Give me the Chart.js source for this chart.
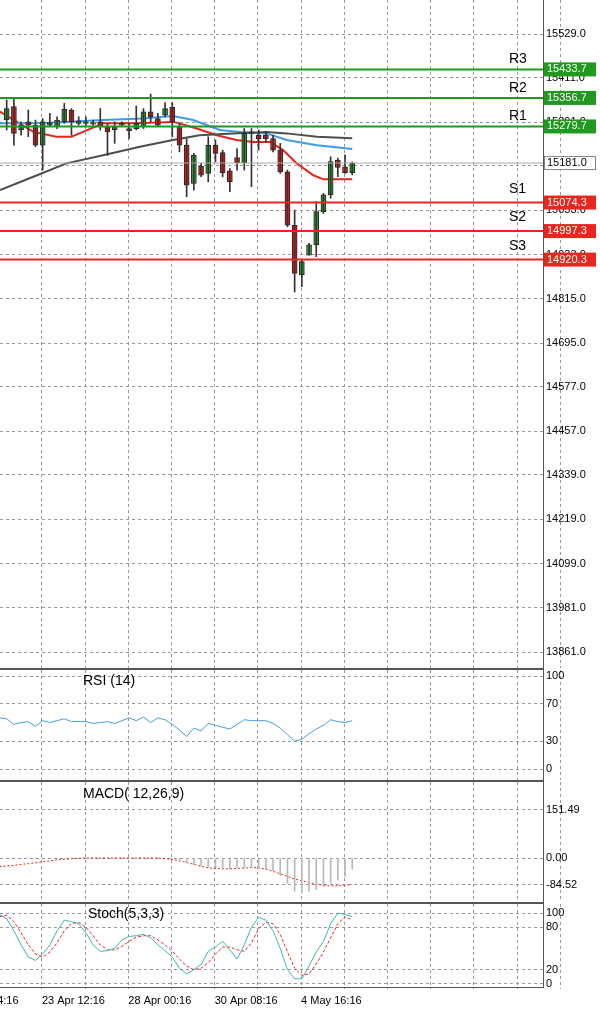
<!DOCTYPE html>
<html><head><meta charset="utf-8">
<script src="https://cdn.jsdelivr.net/npm/chart.js@4/dist/chart.umd.min.js"></script>
<style>
body{margin:0;background:#fff;width:600px;height:1014px;overflow:hidden;position:relative;font-family:"Liberation Sans",Arial,sans-serif}
.p{position:absolute;left:0;width:600px}
.sep{position:absolute;left:0;width:543px;height:2px;background:#555}
</style></head><body>
<div class="p" style="top:0;height:668px"><canvas id="c1"></canvas></div>
<div class="sep" style="top:668px"></div>
<div class="p" style="top:670px;height:110px"><canvas id="c2"></canvas></div>
<div class="sep" style="top:780px"></div>
<div class="p" style="top:782px;height:120px"><canvas id="c3"></canvas></div>
<div class="sep" style="top:902px"></div>
<div class="p" style="top:904px;height:110px"><canvas id="c4"></canvas></div>
<div style="position:absolute;left:543px;top:0;width:1px;height:988px;background:#555"></div>
<div style="position:absolute;left:0;top:987px;width:544px;height:1px;background:#555"></div>
<script>
const opens =[15297,15333,15270,15292,15283,15229,15283,15279,15292,15324,15288,15288,15286,15292,15279,15270,15283,15274,15274,15279,15319,15301,15310,15331,15279,15229,15126,15173,15153,15229,15209,15160,15196,15182,15261,15256,15256,15247,15216,15157,15013,14879,14932,14960,15050,15095,15189,15171,15155];
const highs =[15351,15355,15292,15324,15297,15301,15315,15306,15342,15328,15306,15306,15297,15328,15288,15292,15292,15288,15335,15328,15367,15315,15344,15344,15288,15247,15207,15180,15252,15243,15216,15166,15220,15274,15274,15270,15265,15256,15234,15162,15054,14919,14964,15077,15099,15198,15194,15203,15184];
const lows  =[15270,15229,15256,15252,15225,15162,15279,15274,15288,15256,15283,15279,15283,15270,15202,15234,15279,15247,15270,15274,15292,15279,15306,15252,15211,15090,15108,15144,15130,15184,15144,15104,15162,15162,15117,15216,15238,15211,15153,15009,14833,14847,14932,14928,15045,15086,15144,15153,15149];
const closes=[15328,15261,15283,15283,15229,15292,15290,15297,15326,15292,15295,15292,15290,15279,15265,15279,15288,15268,15288,15319,15306,15283,15328,15292,15229,15121,15202,15148,15229,15207,15155,15130,15182,15261,15265,15247,15247,15216,15157,15013,14883,14915,14960,15050,15095,15185,15169,15155,15180];
const maFastX=[0.07,2,4.7,7.9,10,11.6,14.4,18.5,24.1,25,27.4,30.2,32.9,35.3,37.6,39.4,41.3,43.6,45,49];
const maFast =[15320,15297,15265,15252,15252,15265,15288,15288,15292,15288,15274,15256,15243,15238,15238,15216,15180,15148,15137,15137];
const maMidX=[0.07,4.7,9.3,14.4,19.9,24.1,26.9,30.6,33.4,37.1,39.9,44.1,49];
const maMid =[15288,15288,15292,15297,15301,15308,15297,15270,15265,15261,15243,15229,15219];
const maSlowX=[0.07,4.7,9.3,14.4,19.5,24.1,27.8,32.4,37.1,39.9,44.1,49];
const maSlow =[15108,15144,15180,15202,15225,15243,15256,15261,15265,15261,15252,15248];
const resist=[15433.7,15356.7,15279.7];
const support=[15074.3,14997.3,14920.3];
const lastPrice=15181.0;
const priceTicks=[15529,15411,15291,15173,15053,14933,14815,14695,14577,14457,14339,14219,14099,13981,13861];
const rsi=[55,54,48,50,51,46,52,50,52,54,51,51,51,49,50,51,49,52,55,52,56,50,55,53,48,42,35,44,41,49,47,45,43,48,53,52,52,52,49,44,37,30,32,38,43,47,53,51,50,52];
const macdHist=[0,0,0,0,0,0,0,0,0,0,0,0,0,0,0,0,0,0,0,0,0,0,0,0,-5,-15,-20,-25,-30,-30,-35,-35,-30,-30,-30,-30,-35,-40,-55,-80,-105,-110,-105,-100,-90,-80,-70,-60,-35];
const macdSignal=[-27,-25,-23,-20,-18,-15,-12,-9,-6,-4,-2,-1,0,0,0,0,0,0,0,0,0,0,0,-2,-5,-9,-14,-20,-26,-31,-33,-34,-34,-33,-32,-30,-31,-35,-42,-50,-58,-66,-72,-78,-82,-86,-88,-88,-86,-84];
const stochMain=[98,92,75,55,38,33,42,55,75,90,88,85,72,55,46,47,50,62,67,68,70,65,55,47,38,22,14,20,27,46,52,60,48,35,55,80,94,90,75,50,20,7,7,25,45,60,85,100,98,95];
const stochSig=[95,97,88,72,55,42,38,45,58,75,85,87,80,68,55,48,48,53,60,66,68,68,62,55,46,35,25,20,22,30,42,52,52,48,46,58,78,87,85,70,45,22,12,14,28,45,65,85,95,90];
const timeLabels=["22 Apr 04:16","","23 Apr 12:16","","28 Apr 00:16","","30 Apr 08:16","","4 May 16:16","","","","","","",""];

const XMIN=0.07,XMAX=75.5;
const FONT={family:"Liberation Sans",size:11};
function xScale(showLabels){
  return {type:'linear',min:XMIN,max:XMAX,offset:false,
    afterBuildTicks:s=>{s.ticks=[];for(let k=-2;k<=12;k++)s.ticks.push({value:5.9+6*k});},
    afterFit:s=>{s.paddingLeft=0;s.paddingRight=0;if(!showLabels)s.height=0;},
    grid:{color:'#999',drawTicks:false,offset:false},border:{display:false,dash:[3,3]},
    ticks:{display:showLabels,color:'#000',font:FONT,maxRotation:0,autoSkip:false,padding:6,align:'start',
      callback:(v,i)=>timeLabels[i]||''}};
}
function yScale(min,max,ticks,fmt){
  return {position:'right',min,max,
    afterFit:s=>{s.width=57;s.paddingTop=0;s.paddingBottom=0;},
    afterBuildTicks:s=>{s.ticks=ticks.map(v=>({value:v}));},
    grid:{color:'#999',drawTicks:false},border:{display:false,dash:[3,3]},
    ticks:{color:'#000',font:FONT,padding:3,callback:fmt||(v=>v)}};
}
Chart.defaults.animation=false;
Chart.defaults.font.family="Liberation Sans";
const idx=opens.map((_,i)=>i+1);
const noLeg={legend:{display:false},tooltip:{enabled:false}};
const LP={padding:0};

const levelPlugin={id:'lv',afterDraw(ch){
  const c=ch.ctx,y=ch.scales.y;
  c.save();c.font='11px "Liberation Sans"';c.textBaseline='middle';
  const box=(v,bg,fg,txt)=>{const py=y.getPixelForValue(v);c.fillStyle=bg;c.fillRect(544,py-7,52,14);c.fillStyle=fg;c.textAlign='left';c.fillText(txt,547,py);};
  resist.forEach(v=>box(v,'#1f9a1f','#fff',v.toFixed(1)));
  support.forEach(v=>box(v,'#e8261e','#fff',v.toFixed(1)));
  box(lastPrice,'#fff','#000',lastPrice.toFixed(1));
  c.strokeStyle='#888';c.strokeRect(544.5,y.getPixelForValue(lastPrice)-6.5,51,13);
  c.font='14px "Liberation Sans"';c.fillStyle='#000';c.textAlign='left';c.textBaseline='alphabetic';
  ['R3','R2','R1'].forEach((t,i)=>c.fillText(t,509,y.getPixelForValue(resist[i])-6));
  ['S1','S2','S3'].forEach((t,i)=>c.fillText(t,509,y.getPixelForValue(support[i])-10));
  c.restore();
}};
const hl=(v,col,w)=>({type:'line',data:[{x:XMIN,y:v},{x:XMAX,y:v}],borderColor:col,borderWidth:w,pointRadius:0});
new Chart(document.getElementById('c1'),{
  data:{datasets:[
    hl(lastPrice,'#aaa',1),
    ...resist.map(v=>hl(v,'#1f9a1f',2)),
    ...support.map(v=>hl(v,'#e8261e',2)),
    {type:'bar',data:idx.map((x,i)=>({x,y:[lows[i],highs[i]]})),backgroundColor:'#333',barThickness:1,grouped:false},
    {type:'bar',data:idx.map((x,i)=>({x,y:[Math.min(opens[i],closes[i]),Math.max(opens[i],closes[i])+0.01]})),
      backgroundColor:idx.map((x,i)=>closes[i]>=opens[i]?'#2ca02c':'#e3201b'),borderColor:'#222',borderWidth:1,borderSkipped:false,barThickness:5,grouped:false},
    {type:'line',data:maSlowX.map((x,i)=>({x,y:maSlow[i]})),borderColor:'#4a4f4f',borderWidth:2,pointRadius:0},
    {type:'line',data:maMidX.map((x,i)=>({x,y:maMid[i]})),borderColor:'#3d9be9',borderWidth:2,pointRadius:0},
    {type:'line',data:maFastX.map((x,i)=>({x,y:maFast[i]})),borderColor:'#e3261e',borderWidth:2,pointRadius:0}
  ]},
  options:{responsive:true,maintainAspectRatio:false,layout:LP,plugins:noLeg,
    scales:{x:xScale(false),y:yScale(13818,15621,priceTicks,v=>v.toFixed(1))}},
  plugins:[levelPlugin]
});
const title=(t,x,y)=>({id:'t'+t.length,afterDraw(ch){const c=ch.ctx;c.save();c.font='14px "Liberation Sans"';c.fillStyle='#000';c.textBaseline='top';c.fillText(t,x,y);c.restore();}});
const ix0=rsi.map((_,i)=>i);
new Chart(document.getElementById('c2'),{
  data:{datasets:[{type:'line',data:ix0.map(i=>({x:i,y:rsi[i]})),borderColor:'#4a9be0',borderWidth:1,pointRadius:0}]},
  options:{responsive:true,maintainAspectRatio:false,plugins:noLeg,layout:LP,
    scales:{x:xScale(false),y:yScale(-11.8,106.5,[100,70,30,0])}},
  plugins:[title('RSI (14)',83,4)]
});
new Chart(document.getElementById('c3'),{
  data:{datasets:[
    {type:'bar',data:idx.map((x,i)=>({x,y:macdHist[i]})),backgroundColor:'#b8b8b8',barThickness:1},
    {type:'line',data:ix0.map(i=>({x:i,y:macdSignal[i]})),borderColor:'#e3261e',borderWidth:1,borderDash:[2,2],pointRadius:0}]},
  options:{responsive:true,maintainAspectRatio:false,plugins:noLeg,layout:LP,
    scales:{x:xScale(false),y:yScale(-138.8,239.8,[151.49,0,-84.52],v=>v.toFixed(2))}},
  plugins:[title('MACD( 12,26,9)',83,5)]
});
new Chart(document.getElementById('c4'),{
  data:{datasets:[
    {type:'line',data:ix0.map(i=>({x:i,y:stochMain[i]})),borderColor:'#3fb7b0',borderWidth:1,pointRadius:0},
    {type:'line',data:ix0.map(i=>({x:i,y:stochSig[i]})),borderColor:'#e3261e',borderWidth:1,borderDash:[3,2],pointRadius:0}]},
  options:{responsive:true,maintainAspectRatio:false,plugins:noLeg,layout:LP,
    scales:{x:xScale(true),y:yScale(-7.1,112.9,[100,80,20,0])}},
  plugins:[title('Stoch(5,3,3)',88,3)]
});
</script></body></html>
